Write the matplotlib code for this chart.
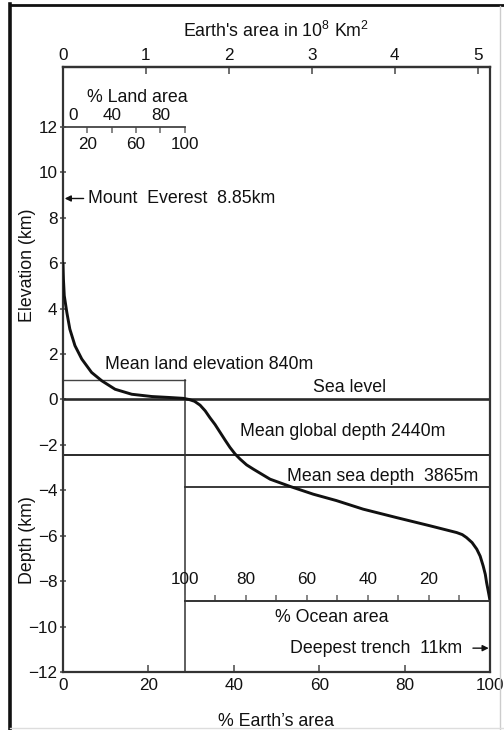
import matplotlib
matplotlib.use("Agg")
import matplotlib.pyplot as plt
from matplotlib.lines import Line2D
from matplotlib.transforms import blended_transform_factory

plt.rcParams["font.family"] = ["Liberation Sans", "DejaVu Sans"]
plt.rcParams["mathtext.fontset"] = "custom"
plt.rcParams["mathtext.rm"] = "Liberation Sans"

# Hypsometric curve: % of Earth's area vs elevation (km)
earth_pct = [0, 0.05, 0.1, 0.3, 0.9, 1.6, 2.8, 4.4, 6.7, 9.1, 12.2, 16.1, 20.8, 24.7, 28.2,
             29.5, 30.8, 32.1, 33.3, 34.4, 35.6, 36.8, 38.0, 39.1, 40.3, 41.5, 43.0,
             44.6, 48.5, 53.2, 58.6, 64.0, 70.3, 78.1, 85.9, 92.2, 93.5, 94.5, 95.8,
             96.9, 97.7, 98.4, 98.9, 99.2, 99.6, 100]
elev_km = [6.0, 5.6, 5.3, 4.57, 3.83, 3.1, 2.37, 1.78, 1.19, 0.82, 0.45, 0.23, 0.13, 0.09, 0.05,
           0.0, -0.08, -0.25, -0.5, -0.8, -1.1, -1.45, -1.8, -2.11, -2.4, -2.63, -2.88,
           -3.07, -3.51, -3.83, -4.17, -4.45, -4.83, -5.2, -5.56, -5.86, -5.95, -6.08, -6.3,
           -6.59, -6.9, -7.33, -7.7, -8.06, -8.45, -8.85]

# Reference values
land_pct = 28.5
mean_land_elev = 0.84
mean_global_depth = -2.44
mean_sea_depth = -3.865
everest = 8.85
trench = -10.95
earth_area_total = 5.15  # 10^8 km^2 at 100 %

y_ticks = [-12, -10, -8, -6, -4, -2, 0, 2, 4, 6, 8, 10, 12]
x_ticks = [0, 20, 40, 60, 80, 100]
area_ticks = [0, 1, 2, 3, 4, 5]
land_ticks = [20, 40, 60, 80, 100]
land_bottom_labels = ["20", "", "60", "", "100"]
land_top_labels = [0, 40, 80]
ocean_ticks = [20, 40, 60, 80, 100]
ocean_minor = [10, 30, 50, 70, 90]
ocean_axis_y = -8.87
land_axis_y = 12

fs = 12.8
tick_fs = 12.3
ink = "#111111"
line_c = "#2a2a2a"

fig = plt.figure(figsize=(5.04, 7.3), dpi=100)
ax = fig.add_axes([63 / 504, 58 / 730, 427 / 504, 605 / 730])

# Curve and reference lines
ax.plot(earth_pct, elev_km, color=ink, lw=2.1, solid_joinstyle="round",
        solid_capstyle="round", zorder=5)
ax.axhline(0, color=line_c, lw=1.9)
ax.axhline(mean_global_depth, color=line_c, lw=1.4)
ax.plot([land_pct, 100], [mean_sea_depth, mean_sea_depth], color=line_c, lw=1.3)
ax.plot([0, land_pct], [mean_land_elev, mean_land_elev], color="#444444", lw=1.0)
ax.plot([land_pct, land_pct], [mean_land_elev, -12], color="#333333", lw=1.1)

ax.set_xlim(0, 100)
ax.set_ylim(-12, 14.64)
ax.set_xticks(x_ticks)
ax.set_yticks(y_ticks)
for s in ax.spines.values():
    s.set_color("#333333")
    s.set_linewidth(1.6)
ax.tick_params(axis="x", direction="in", length=5, width=1.2, color="#555555",
               labelsize=tick_fs, pad=4, labelcolor=ink)
ax.tick_params(axis="y", direction="inout", length=5, width=1.2, color="#555555",
               labelsize=tick_fs, pad=1.5, labelcolor=ink)
ax.set_xlabel("% Earth\u2019s area", fontsize=fs, color=ink, labelpad=15)

# Top axis: Earth's area in 10^8 km^2
sec = ax.secondary_xaxis("top", functions=(lambda p: p * earth_area_total / 100,
                                           lambda a: a * 100 / earth_area_total))
sec.set_xticks(area_ticks)
sec.tick_params(direction="in", length=5, width=1.2, color="#555555",
                labelsize=tick_fs, pad=3, labelcolor=ink)
sec.spines["top"].set_color("#333333")
sec.spines["top"].set_linewidth(1.6)
sec.set_xlabel("Earth's area in 10$^{8}$ Km$^{2}$", fontsize=fs, color=ink, labelpad=8)

# Left labels
side = blended_transform_factory(ax.transAxes, ax.transData)
ax.text(-0.084, 5.9, "Elevation (km)", rotation=90, ha="center", va="center",
        fontsize=fs, color=ink, transform=side)
ax.text(-0.082, -6.2, "Depth (km)", rotation=90, ha="center", va="center",
        fontsize=fs, color=ink, transform=side)

# % Land area scale
land_ax = ax.inset_axes([0, land_axis_y, land_pct, 0.001], transform=ax.transData)
land_ax.patch.set_visible(False)
for k in ["top", "left", "right"]:
    land_ax.spines[k].set_visible(False)
land_ax.spines["bottom"].set_color("#444444")
land_ax.spines["bottom"].set_linewidth(1.3)
land_ax.set_xlim(0, 100)
land_ax.set_yticks([])
land_ax.set_xticks(land_ticks)
land_ax.set_xticklabels(land_bottom_labels)
land_ax.tick_params(axis="x", direction="out", length=4, width=1.1, color="#666666",
                    labelsize=tick_fs, pad=3, labelcolor=ink)
for v in land_top_labels:
    land_ax.annotate(str(v), xy=(v, 0), xycoords=("data", "axes fraction"),
                     xytext=(7 if v == 0 else 0, 3), textcoords="offset points",
                     ha="center", va="bottom", fontsize=tick_fs, color=ink)
ax.text(17.3, 13.3, "% Land area", ha="center", va="center", fontsize=fs, color=ink)

# % Ocean area scale
ocean_ax = ax.inset_axes([land_pct, ocean_axis_y, 100 - land_pct, 0.001],
                         transform=ax.transData)
ocean_ax.patch.set_visible(False)
for k in ["top", "left", "right"]:
    ocean_ax.spines[k].set_visible(False)
ocean_ax.spines["bottom"].set_color("#333333")
ocean_ax.spines["bottom"].set_linewidth(1.4)
ocean_ax.set_xlim(100, 0)
ocean_ax.set_yticks([])
ocean_ax.set_xticks(ocean_ticks)
ocean_ax.set_xticks(ocean_minor, minor=True)
ocean_ax.tick_params(axis="x", which="both", direction="in", length=4, width=1.1,
                     color="#666666", bottom=True, top=False,
                     labelbottom=False, labeltop=True, labelsize=tick_fs,
                     pad=10, labelcolor=ink)
ax.text(63.0, -9.6, "% Ocean area", ha="center", va="center", fontsize=fs, color=ink)

# Annotations
ax.text(9.8, 1.54, "Mean land elevation 840m", ha="left", va="center", fontsize=fs, color=ink)
ax.text(67.0, 0.53, "Sea level", ha="center", va="center", fontsize=fs, color=ink)
ax.text(41.5, -1.41, "Mean global depth 2440m", ha="left", va="center", fontsize=fs, color=ink)
ax.text(52.5, -3.39, "Mean sea depth  3865m", ha="left", va="center", fontsize=fs, color=ink)
ax.annotate("Mount  Everest  8.85km", xy=(0.4, everest), xytext=(5.8, everest),
            ha="left", va="center", fontsize=fs, color=ink,
            arrowprops=dict(arrowstyle="-|>", color=ink, lw=1.0, mutation_scale=9,
                            shrinkA=1, shrinkB=0))
ax.annotate("Deepest trench  11km", xy=(99.7, trench), xytext=(93.4, trench),
            ha="right", va="center", fontsize=fs, color=ink,
            arrowprops=dict(arrowstyle="-|>", color=ink, lw=1.0, mutation_scale=9,
                            shrinkA=6, shrinkB=0))

# Outer frame
fig.add_artist(Line2D([10 / 504, 10 / 504], [0, 1 - 4 / 730], transform=fig.transFigure,
                      color="#111111", lw=2.6))
fig.add_artist(Line2D([10 / 504, 1], [1 - 5 / 730, 1 - 5 / 730], transform=fig.transFigure,
                      color="#111111", lw=2.0))
fig.add_artist(Line2D([500 / 504, 500 / 504], [0, 1 - 6 / 730], transform=fig.transFigure,
                      color="#cccccc", lw=1.0))
fig.add_artist(Line2D([10 / 504, 1], [2 / 730, 2 / 730], transform=fig.transFigure,
                      color="#dddddd", lw=1.0))

fig.savefig("out.png", dpi=100)
